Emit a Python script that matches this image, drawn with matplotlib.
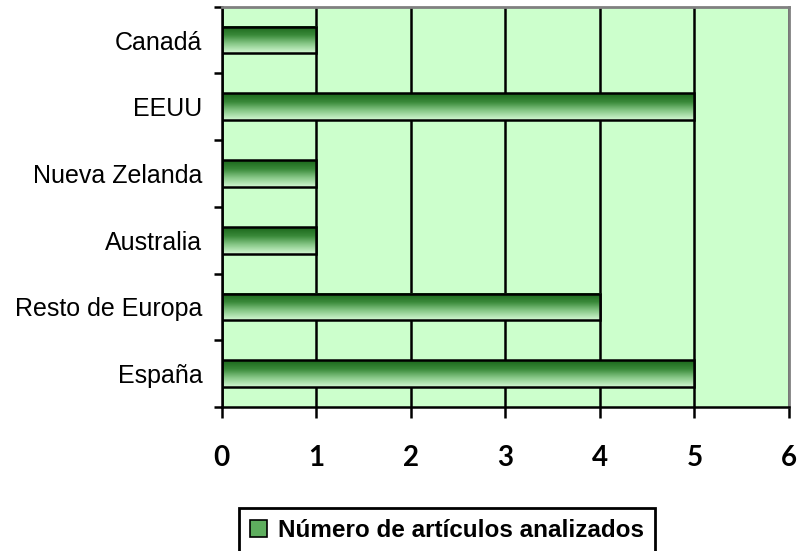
import numpy as np
import matplotlib
matplotlib.use('Agg')
import matplotlib.pyplot as plt
from matplotlib.colors import LinearSegmentedColormap
from matplotlib.patches import Patch

# data (bottom to top)
paises = ['España', 'Resto de Europa', 'Australia', 'Nueva Zelanda', 'EEUU', 'Canadá']
articulos = [5, 4, 1, 1, 5, 1]
xticks = [0, 1, 2, 3, 4, 5, 6]
serie = 'Número de artículos analizados'

bg = '#CCFFCC'
cm = LinearSegmentedColormap.from_list('cyl', ['#1A661A', '#3A8A3A', '#8ACA8A', '#D2F7D2'])

fig = plt.figure(figsize=(8.01, 5.51), dpi=100)
ax = fig.add_axes([221.7/801, 1-407/551, (789-221.7)/801, (407-6.7)/551])
ax.set_facecolor(bg)

# gradient bars
grad = np.linspace(0, 1, 64)[:, None]
h = 0.4
ypos = np.arange(len(paises))
for y, v in zip(ypos, articulos):
    ax.imshow(grad, cmap=cm, aspect='auto', extent=[0, v, y-h/2, y+h/2],
              zorder=2, interpolation='bilinear')
ax.barh(ypos, articulos, height=h, facecolor='none', edgecolor='black',
        linewidth=1.8, zorder=3)

ax.set_xlim(0, 6)
ax.set_ylim(-0.5, len(paises)-0.5)

# grid
ax.set_axisbelow(True)
ax.xaxis.grid(True, color='black', linewidth=1.8)
ax.set_xticks(xticks)
ax.set_xticklabels([str(t) for t in xticks], fontfamily='Lato', fontweight='bold', fontsize=20)
ax.tick_params(axis='x', length=8, width=1.8, direction='out', pad=19)

# y ticks: marks at boundaries, labels at centres
ax.set_yticks(np.arange(-0.5, len(paises), 1.0))
ax.set_yticklabels([])
ax.tick_params(axis='y', which='major', length=6, width=1.8, direction='out')
ax.set_yticks(ypos, minor=True)
ax.set_yticklabels(paises, minor=True, fontfamily='Liberation Sans', fontsize=18)
ax.tick_params(axis='y', which='minor', length=0, pad=14)

for s in ['left', 'bottom']:
    ax.spines[s].set_color('black')
    ax.spines[s].set_linewidth(1.8)
for s in ['top', 'right']:
    ax.spines[s].set_color('#808080')
    ax.spines[s].set_linewidth(2)

# legend
handle = Patch(facecolor='#5EAE5E', edgecolor='black', linewidth=1.2)
leg = fig.legend([handle], [serie], loc='upper left',
                 bbox_to_anchor=(239/801, 1-508/551), borderaxespad=0,
                 prop={'family': 'Liberation Sans', 'weight': 'bold', 'size': 17.5},
                 handlelength=0.7, handleheight=0.7, handletextpad=0.45,
                 borderpad=0.45, fancybox=False, framealpha=1)
leg.get_frame().set_edgecolor('black')
leg.get_frame().set_linewidth(2)

fig.savefig('out.png', dpi=100)
